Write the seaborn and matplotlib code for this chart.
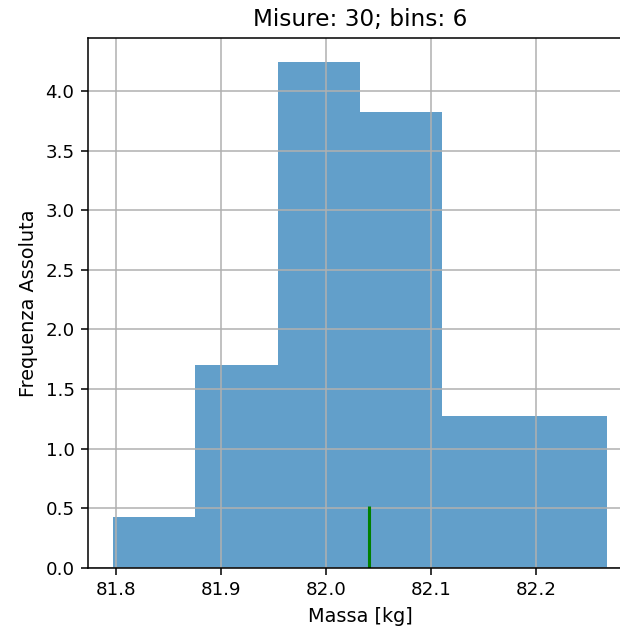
import matplotlib
matplotlib.use("Agg")
import matplotlib.pyplot as plt
import seaborn as sns
import numpy as np

# Data
bin_edges = [81.797, 81.8755, 81.954, 82.0325, 82.111, 82.1895, 82.268]
counts = [1, 4, 10, 9, 3, 3]
mean_value = 82.041
mean_line_height = 0.52
title = "Misure: 30; bins: 6"
xlabel = "Massa [kg]"
ylabel = "Frequenza Assoluta"
xticks = [81.8, 81.9, 82.0, 82.1, 82.2]
yticks = [0.0, 0.5, 1.0, 1.5, 2.0, 2.5, 3.0, 3.5, 4.0]

centers = [(bin_edges[i] + bin_edges[i + 1]) / 2 for i in range(len(counts))]

DPI = 138.5
fig = plt.figure(figsize=(620 / DPI, 629 / DPI), dpi=DPI)
ax = fig.add_axes([88 / 620, 1 - 568 / 629, (632 - 88) / 620, (568 - 38) / 629])

sns.histplot(x=centers, weights=counts, bins=bin_edges, stat="density",
             color="#1f77b4", alpha=0.7, linewidth=0, edgecolor="none", ax=ax)
ax.vlines(mean_value, 0, mean_line_height, color="green", linewidth=1.6)

ax.grid(True, color="#b0b0b0", linewidth=0.8)
ax.set_title(title, fontsize=12)
ax.set_xlabel(xlabel, fontsize=10)
ax.set_ylabel(ylabel, fontsize=10)
ax.set_xticks(xticks)
ax.set_yticks(yticks)
ax.tick_params(labelsize=9.5)
ax.set_ylim(0, 4.444)
ax.set_xlim(81.7735, 82.2915)

fig.savefig("out.png", dpi=DPI)
